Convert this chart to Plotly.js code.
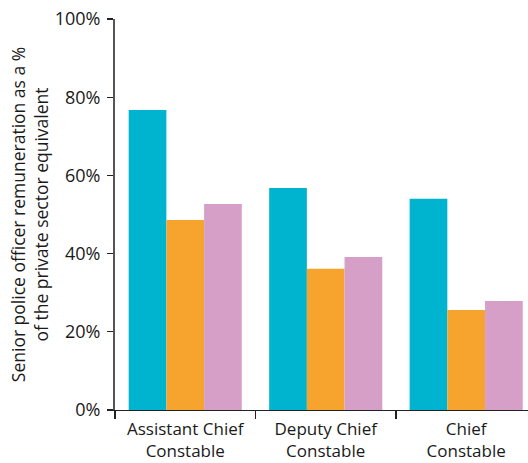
<!DOCTYPE html>
<html>
<head>
<meta charset="utf-8">
<script src="https://cdn.plot.ly/plotly-3.0.1.min.js"></script>
<style>
html,body{margin:0;padding:0;overflow:hidden;background:#fff;}
#chart{width:528px;height:463px;}
</style>
</head>
<body>
<div id="chart"></div>
<script>
var categories = ["Assistant Chief<br>Constable", "Deputy Chief<br>Constable", "Chief<br>Constable"];
var seriesA = [76.7, 56.8, 54.0];
var seriesB = [48.6, 36.1, 25.6];
var seriesC = [52.7, 39.1, 27.9];
var yTickVals = [0, 20, 40, 60, 80, 100];
var yTickText = ["0%", "20%", "40%", "60%", "80%", "100%"];

var colors = ["#00B4CF", "#F6A42D", "#D59FC8"];
var font = "Open Sans, Lato, sans-serif";

var traces = [seriesA, seriesB, seriesC].map(function (vals, i) {
  return {
    type: "bar",
    x: categories,
    y: vals,
    marker: {color: colors[i], line: {width: 0}},
    hoverinfo: "none"
  };
});

var layout = {
  width: 528,
  height: 463,
  margin: {l: 115, r: 0, t: 19, b: 53},
  paper_bgcolor: "#fff",
  plot_bgcolor: "#fff",
  showlegend: false,
  barmode: "group",
  bargap: 0.195,
  bargroupgap: 0,
  font: {family: font, size: 17, color: "#1a1a1a"},
  xaxis: {
    type: "category",
    range: [-0.5, 2.44],
    showline: true,
    linecolor: "#222",
    linewidth: 1.2,
    ticks: "outside",
    tickson: "boundaries",
    ticklen: 8,
    tickwidth: 1.2,
    tickcolor: "#222",
    ticklabelstandoff: 3,
    showgrid: false,
    zeroline: false,
    tickfont: {family: font, size: 17, color: "#1a1a1a"},
    fixedrange: true
  },
  yaxis: {
    range: [0, 100],
    tickvals: yTickVals,
    ticktext: yTickText,
    showline: true,
    linecolor: "#555",
    linewidth: 2,
    ticks: "outside",
    ticklen: 6,
    tickwidth: 1.2,
    tickcolor: "#222",
    ticklabelstandoff: 3,
    showgrid: false,
    zeroline: false,
    tickfont: {family: font, size: 18, color: "#1a1a1a"},
    title: {
      text: "Senior police officer remuneration as a %<br>of the private sector equivalent",
      font: {family: font, size: 17.5, color: "#1a1a1a"},
      standoff: 2
    },
    fixedrange: true
  }
};

Plotly.newPlot("chart", traces, layout, {displayModeBar: false, staticPlot: true});
</script>
</body>
</html>
